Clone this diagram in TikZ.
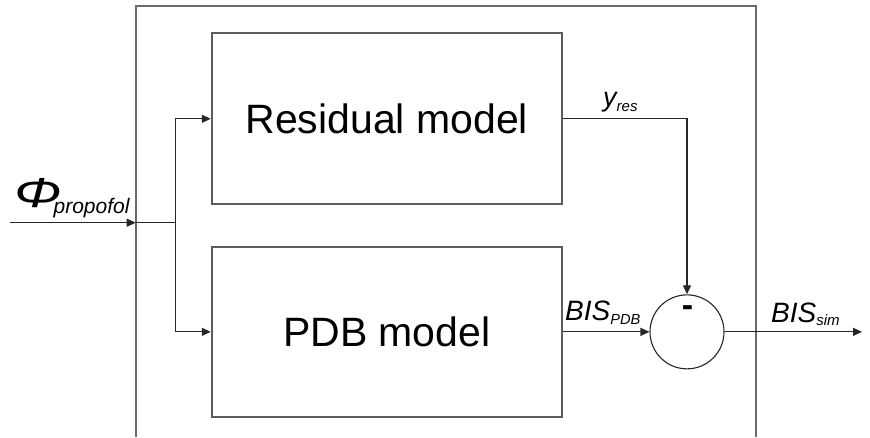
\documentclass[tikz,border=0pt]{standalone}
\usepackage{fontspec}
\setmainfont{Liberation Sans}
\usetikzlibrary{arrows.meta}
\newcommand{\fsz}[1]{\fontsize{#1}{#1}\selectfont}
\definecolor{boxline}{gray}{0.36}
\definecolor{frameline}{gray}{0.42}
\definecolor{wire}{gray}{0.15}
\tikzset{
  block/.style={draw=boxline, line width=1.9pt, inner sep=0pt, font=\fsz{41}},
  wireline/.style={draw=wire, line width=1.1pt},
  arr/.style={wireline, -{Triangle[length=9pt,width=8pt]}},
  sumnode/.style={circle, draw=wire, line width=1.1pt, inner sep=0pt, minimum size=74pt},
  lbl/.style={anchor=base west, inner sep=0pt, font=\itshape}
}
\begin{document}
\begin{tikzpicture}[x=1pt, y=-1pt]
\useasboundingbox (0,0) rectangle (870,437);

% open enclosing frame
\draw[frameline, line width=1.8pt] (135.7,437) -- (135.7,6) -- (755.7,6) -- (755.7,437);

% model blocks
\node[block, minimum width=350.3pt, minimum height=171pt] (res) at (386.85,118.8) {Residual model};
\node[block, minimum width=350.3pt, minimum height=170.3pt] (pdb) at (386.85,331.85) {PDB model};

% subtraction junction
\node[sumnode] (sum) at (687,331.85) {};
\node[anchor=base, inner sep=0pt, font=\fsz{34}\bfseries] (minus) at (687.5,316) {-};

% input and its split
\coordinate (src) at (10,222.7);
\coordinate (port) at (135.7,222.7);
\coordinate (split) at (175.7,222.7);
\coordinate (out) at (862,331.85);

\draw[arr] (src) -- (port);
\draw[wireline] (port) -- (split);
\draw[arr] (split) |- (res.west);
\draw[arr] (split) |- (pdb.west);

% outputs of the blocks
\draw[arr] (res.east) -| (sum.north);
\draw[arr] (pdb.east) -- (sum.west);
\draw[arr] (sum.east) -- (out);

% signal labels
\node[lbl] (phi) at (14,207) {\scalebox{1.35}[1]{\fsz{42}Φ}\hspace{-8pt}\raisebox{-6pt}{\fsz{21}propofol}};
\node[lbl] (yres) at (603,106) {\fsz{27}y\raisebox{-5pt}{\fsz{15}res}};
\node[lbl] (bispdb) at (565,320) {\fsz{28}BIS\raisebox{-4pt}{\fsz{14.6}PDB}};
\node[lbl] (bissim) at (771,322) {\fsz{28}BIS\raisebox{-3pt}{\fsz{15}sim}};
\end{tikzpicture}
\end{document}
